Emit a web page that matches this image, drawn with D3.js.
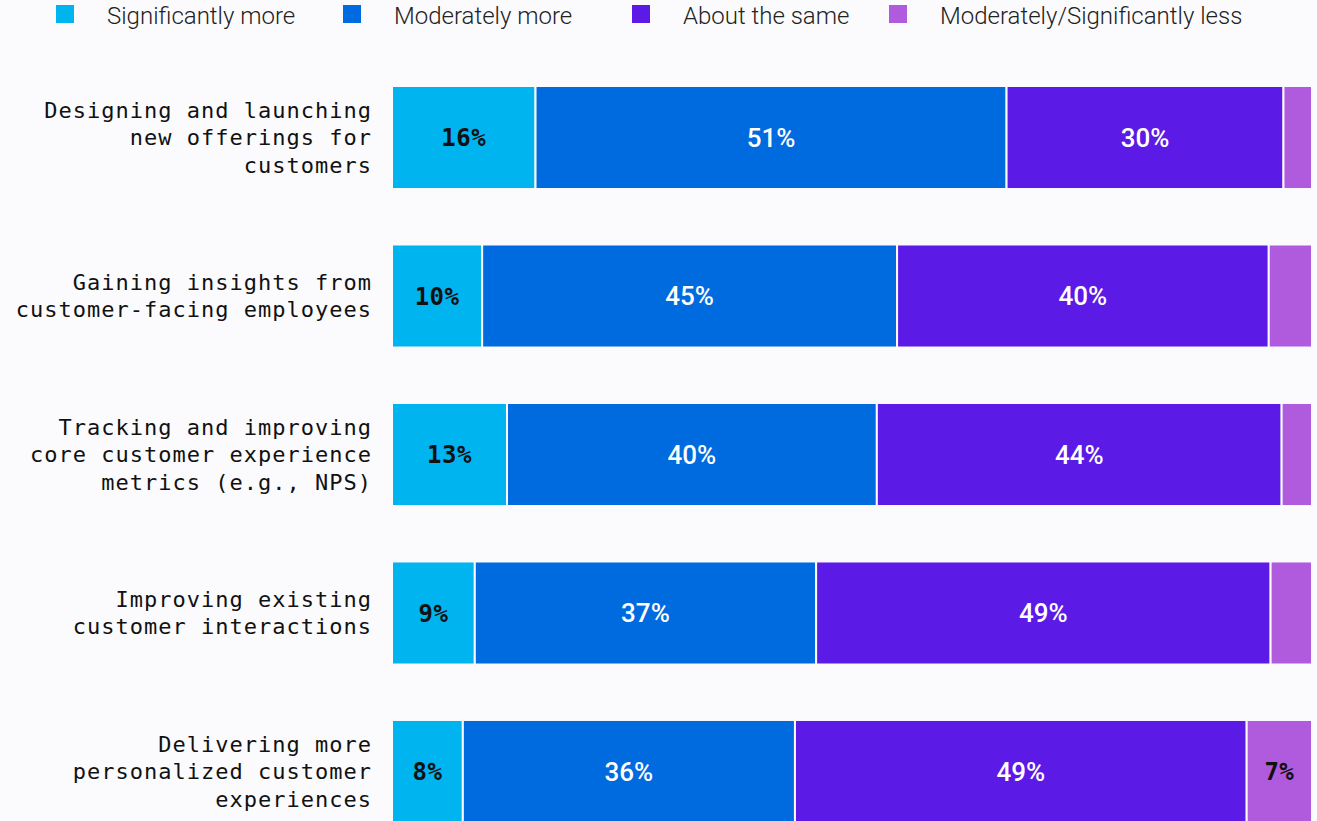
<!DOCTYPE html>
<html>
<head>
<meta charset="utf-8">
<script src="https://cdn.jsdelivr.net/npm/d3@7"></script>
<style>
  body { margin: 0; background: #fbfbfe; }
  svg { display: block; }
</style>
</head>
<body>
<div id="chart"></div>
<script>
// categories (rows), one label line per entry
const categories = [
  ["Designing and launching", "new offerings for", "customers"],
  ["Gaining insights from", "customer-facing employees"],
  ["Tracking and improving", "core customer experience", "metrics (e.g., NPS)"],
  ["Improving existing", "customer interactions"],
  ["Delivering more", "personalized customer", "experiences"]
];
const seriesNames = ["Significantly more", "Moderately more", "About the same", "Moderately/Significantly less"];
// shares in percent (labels are rounded)
const sigMore = [15.6, 9.8, 12.5, 9.0, 7.7];
const modMore = [51.2, 45.1, 40.2, 37.1, 36.1];
const same = [30.1, 40.4, 44.0, 49.4, 49.1];
const less = [3.1, 4.7, 3.3, 4.5, 7.1];

const colors = ["#00b4ef", "#006adf", "#5c1ae6", "#b05ade"];
const labelColors = ["#111", "#fff", "#fff", "#111"];

const width = 1317, height = 821;
const margin = {left: 392, right: 5, top: 86};

const rows = categories.map((c, i) => ({
  key: i, lines: c,
  values: [sigMore[i], modMore[i], same[i], less[i]]
}));

const svg = d3.select("#chart").append("svg")
  .attr("width", width)
  .attr("height", height);

const x = d3.scaleLinear().domain([0, 100]).range([margin.left, width - margin.right]);
const y = d3.scaleBand().domain(rows.map(d => d.key))
  .range([margin.top, margin.top + 737])
  .paddingInner(0.35).paddingOuter(0);

// legend
const legendX = [56, 343, 632, 889];
const legend = svg.append("g").selectAll("g")
  .data(seriesNames)
  .join("g")
  .attr("transform", (d, i) => `translate(${legendX[i]},0)`);
legend.append("rect")
  .attr("x", 0).attr("y", 5).attr("width", 18).attr("height", 18)
  .attr("fill", (d, i) => colors[i]);
legend.append("text")
  .attr("x", 51).attr("y", 16)
  .attr("dy", "0.35em")
  .attr("font-family", "Roboto, sans-serif")
  .attr("font-weight", 300)
  .attr("font-size", 24)
  .attr("fill", "#222")
  .text(d => d);

// bars
const row = svg.append("g").selectAll("g")
  .data(rows)
  .join("g")
  .attr("transform", d => `translate(0,${y(d.key)})`);

row.each(function(d) {
  const g = d3.select(this);
  let acc = 0;
  const segs = d.values.map((v, i) => {
    const s = {i, v, x0: acc, x1: acc + v};
    acc += v;
    return s;
  });
  g.selectAll("rect")
    .data(segs)
    .join("rect")
    .attr("x", s => x(s.x0))
    .attr("width", s => x(s.x1) - x(s.x0))
    .attr("y", 0)
    .attr("height", y.bandwidth())
    .attr("fill", s => colors[s.i])
    .attr("stroke", "#fbfbfe")
    .attr("stroke-width", 2);

  const light = s => labelColors[s.i] === "#fff";
  g.selectAll("text.val")
    .data(segs.filter(s => s.v >= 6.5))
    .join("text")
    .attr("class", "val")
    .attr("x", s => (x(s.x0) + x(s.x1)) / 2)
    .attr("y", y.bandwidth() / 2)
    .attr("dy", "0.36em")
    .attr("text-anchor", "middle")
    .attr("fill", s => labelColors[s.i])
    .attr("font-family", s => light(s) ? "Roboto, sans-serif" : "'DejaVu Sans Mono', monospace")
    .attr("font-weight", s => light(s) ? 500 : 700)
    .attr("font-size", s => light(s) ? 26 : 24)
    .attr("letter-spacing", s => light(s) ? 0 : 0.5)
    .text(s => Math.round(s.v) + "%");

  // category label
  const lh = 27.5;
  const n = d.lines.length;
  g.append("text")
    .attr("text-anchor", "end")
    .attr("font-family", "'DejaVu Sans Mono', monospace")
    .attr("font-size", 22)
    .attr("letter-spacing", 1)
    .attr("fill", "#111")
    .selectAll("tspan")
    .data(d.lines)
    .join("tspan")
    .attr("x", 372)
    .attr("y", (l, j) => y.bandwidth() / 2 + (j - (n - 1) / 2) * lh)
    .attr("dy", "0.35em")
    .text(l => l);
});
</script>
</body>
</html>
